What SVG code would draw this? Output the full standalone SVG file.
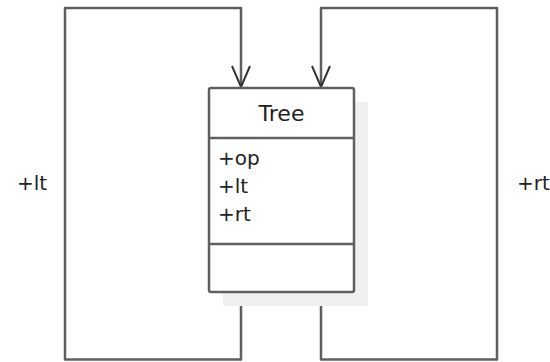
<svg xmlns="http://www.w3.org/2000/svg" width="550" height="362" viewBox="0 0 550 362">
<style>
.edge{fill:none;stroke:#5f5f5f;stroke-width:2.5;stroke-linejoin:round}
.box{fill:#fff;stroke:#5f5f5f;stroke-width:2.5}
.arrow{fill:none;stroke:#333;stroke-width:2}
.t{font-family:"DejaVu Sans","Liberation Sans",Arial,sans-serif;fill:#222}
</style>
<rect x="0" y="0" width="550" height="362" fill="#fff"/>
<g id="connectors">
<path class="edge" d="M241,292 V359.5 H65 V8 H241 V86"/>
<path class="edge" d="M321,292 V359.5 H497 V8 H321 V86"/>
<path class="arrow" d="M232,66 L241,87 L250,66"/>
<path class="arrow" d="M312,66 L321,87 L330,66"/>
<text class="t" x="17" y="190" font-size="20">+lt</text>
<text class="t" x="517" y="190" font-size="20">+rt</text>
</g>
<g id="tree">
<rect x="223" y="102" width="145" height="204" fill="#f0f0f0"/>
<rect class="box" x="209" y="88" width="145" height="204" rx="2"/>
<line class="box" x1="209" y1="138" x2="354" y2="138"/>
<line class="box" x1="209" y1="244" x2="354" y2="244"/>
<text class="t" x="281.5" y="121" font-size="22" text-anchor="middle">Tree</text>
<text class="t" x="218" y="165" font-size="20">+op</text>
<text class="t" x="218" y="193" font-size="20">+lt</text>
<text class="t" x="218" y="221" font-size="20">+rt</text>
</g>
</svg>
